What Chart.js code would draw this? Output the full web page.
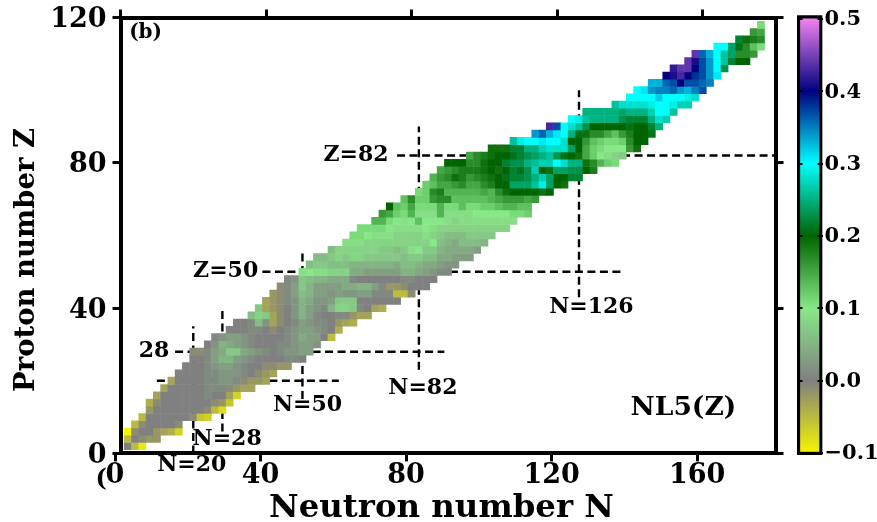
<!DOCTYPE html>
<html><head><meta charset="utf-8">
<style>html,body{margin:0;padding:0;background:#fff;overflow:hidden}
#wrap{position:relative;width:877px;height:522px}
canvas{position:absolute;top:0}
#main{left:0}#bar{left:780px}</style>
<script src="https://cdn.jsdelivr.net/npm/chart.js@4/dist/chart.umd.min.js"></script>
</head><body><div id="wrap"><div style="position:absolute;left:0;top:0;width:877px;height:522px"><canvas id="main" width="877" height="522"></canvas></div><div style="position:absolute;left:780px;top:0;width:97px;height:522px"><canvas id="bar" width="97" height="522" style="left:0"></canvas></div></div>
<script>
// colour scale
const cbValues=[-0.1,0,0.1,0.2,0.3,0.4,0.5];
const cbColors=[[245,245,0],[128,128,128],[136,232,136],[0,100,0],[0,255,255],[0,0,128],[238,130,238]];
const cbTicks=[-0.1,0,0.1,0.2,0.3,0.4,0.5];
const xTicksBottom=[0,40,80,120,160];
const xTicksTop=[0,40,80,120,160];
const yTicks=[0,40,80,120];

// proton numbers of the rows, first neutron number of each row
const zList=[2,4,6,8,10,12,14,16,18,20,22,24,26,28,30,32,34,36,38,40,42,44,46,48,50,52,54,56,58,60,62,64,66,68,70,72,74,76,78,80,82,84,86,88,90,92,94,96,98,100,102,104,106,108,110,112,114,116,118];
const firstN=[2,2,2,4,6,8,8,10,12,14,16,18,20,20,24,26,30,32,36,38,40,42,44,46,50,52,54,58,62,64,66,70,72,74,78,82,84,86,88,90,96,102,108,114,118,124,128,136,140,142,146,150,152,156,158,164,170,174,176];

// quadrupole-type values per row, in hundredths
const r2=[0,-5,-9];
const r4=[-5,0,-1,-2,-2];
const r6=[-10,-1,0,0,-2,-3,-4,-7];
const r8=[-5,-1,0,0,0,0,-1];
const r10=[-5,0,0,0,0,0,0,-1,-6,-7];
const r12=[-2,0,0,0,0,0,0,0,-1,-5,-8];
const r14=[-4,-1,0,0,0,0,0,0,0,-1,-2,-6];
const r16=[-3,0,0,0,0,0,0,1,0,0,-3,-7];
const r18=[-3,0,0,0,0,0,1,1,1,-1,-2,-3,-3];
const r20=[-3,0,0,0,0,1,1,2,2,1,-1,-2,-2,-3];
const r22=[0,0,0,0,1,1,2,2,2,1,0,-1,-2,-3];
const r24=[0,0,0,1,2,3,3,2,1,0,0,-1,-1,-2,-2];
const r26=[0,0,1,3,5,5,3,2,1,0,0,0,0,1,1,0];
const r28=[-1,-1,1,3,4,7,7,4,3,2,1,0,1,2,2,3,3];
const r30=[0,2,5,4,3,2,1,0,0,0,1,1,2,3,3,2];
const r32=[1,2,3,3,2,1,0,0,0,0,1,2,4,3,3,0,-5];
const r34=[0,0,0,1,1,0,-1,0,1,2,3,3,2,1,0,-4];
const r36=[0,0,1,6,2,-3,-1,0,1,3,2,1,1,0,-2,-3,-4];
const r38=[6,8,7,-3,-1,0,2,5,3,1,0,0,1,1,-2,-3,-3];
const r40=[7,-3,-2,-1,0,2,5,3,2,1,5,8,8,7,1,0,-3,-4];
const r42=[-3,-2,-1,1,2,5,4,2,2,3,7,7,7,0,0,0,0,0,0];
const r44=[-2,-1,1,3,6,5,3,3,2,3,2,2,3,3,1,1,1,-5,-5,-1];
const r46=[-1,1,3,7,5,3,3,3,3,4,4,5,5,3,1,-2,-2,-1,0,0,0];
const r48=[1,2,7,6,5,5,4,4,4,1,0,0,0,0,0,0,1,1,0,0,0];
const r50=[9,10,9,9,8,8,8,4,4,3,3,3,3,3,5,5,4,3,2,1,1];
const r52=[6,7,7,6,6,6,5,5,5,5,5,5,4,6,6,5,4,4,3,2,2];
const r54=[6,6,7,8,7,8,8,7,7,7,7,7,6,7,7,6,6,4,4,3,3,3];
const r56=[6,8,8,8,8,8,8,7,7,6,7,9,10,7,7,5,4,4,4,4,3];
const r58=[9,9,9,8,8,8,8,8,8,8,8,8,10,6,5,4,6,6,6,5];
const r60=[11,11,10,9,9,9,8,8,8,8,9,8,7,6,6,6,7,7,7,7];
const r62=[11,11,11,11,10,9,9,9,9,10,9,8,8,8,8,8,8,8,8,8,8];
const r64=[14,14,11,10,9,10,13,10,10,10,9,8,9,9,9,9,9,9,9,9];
const r66=[16,15,12,11,14,9,9,9,14,9,9,9,9,10,10,10,10,10,11,11,12];
const r68=[20,13,12,15,11,11,11,14,11,11,13,11,11,12,12,13,14,14,13,13];
const r70=[13,17,12,12,16,17,17,13,13,13,13,13,14,15,16,16,16,15,16];
const r72=[11,12,17,18,14,14,14,14,14,15,14,17,19,20,20,20,20,19,20];
const r74=[12,13,15,15,16,17,15,15,17,18,20,20,24,24,24,26,29,24,20,19];
const r76=[14,16,17,19,18,16,17,18,19,20,21,22,22,23,25,27,24,20,20,22,22];
const r78=[15,16,17,18,18,18,19,20,19,20,22,21,23,27,20,19,24,24,23,23,20,18];
const r80=[20,20,20,17,17,19,20,20,22,23,23,25,26,27,27,30,28,25,25,19,17,14,12,11];
const r82=[15,17,18,19,20,20,21,22,23,24,25,26,23,21,20,19,15,12,10,9,8,7];
const r84=[19,19,19,22,22,25,25,27,28,28,28,24,20,15,12,11,10,10,10,16,19];
const r86=[26,29,30,30,31,30,30,28,20,20,16,13,12,11,11,12,17,20,20];
const r88=[34,36,33,31,30,25,21,19,17,17,15,13,16,18,20,20,21];
const r90=[43,37,30,28,26,23,20,20,20,20,20,21,20,20,22,25];
const r92=[30,29,26,25,25,25,25,23,22,22,22,25,28,27];
const r94=[25,25,25,25,25,24,25,25,25,27,30,30,26];
const r96=[26,28,28,28,28,29,30,30,29,27,27];
const r98=[30,30,30,30,32,30,30,30,29,28];
const r100=[30,31,34,35,35,36,34,33,35,37];
const r102=[33,33,36,37,40,37,37,36,35];
const r104=[40,41,43,40,38,37,34,31];
const r106=[42,44,44,40,37,34,30,23];
const r108=[44,41,37,34,30,26,22,20,20];
const r110=[44,36,33,30,26,24,17,17,16];
const r112=[30,30,24,21,17,13,11];
const r114=[22,19,18,17];
const r116=[16,15];
const r118=[11];
const rows=[r2,r4,r6,r8,r10,r12,r14,r16,r18,r20,r22,r24,r26,r28,r30,r32,r34,r36,r38,r40,r42,r44,r46,r48,r50,r52,r54,r56,r58,r60,r62,r64,r66,r68,r70,r72,r74,r76,r78,r80,r82,r84,r86,r88,r90,r92,r94,r96,r98,r100,r102,r104,r106,r108,r110,r112,r114,r116,r118];

// magic number guide lines: [position, from, to]
const nLines=[[20,0,35],[28,6,40],[50,15,55],[82,23,90],[126,43,100]];
const zLines=[[20,10,60],[28,15,89],[50,39,138],[82,76,180]];
// annotation texts
const labelTexts=["28","Z=50","Z=82","N=20","N=28","N=50","N=82","N=126","NL5(Z)","(b)","("];
const labelN=[9.2,28.9,64.7,19.6,29.3,51.4,83.1,129.4,154.7,6.9,-5.3];
const labelZ=[28.2,50.2,82.1,-3.2,4,13.3,18,40.3,12.5,115.7,-7.2];
const labelSizes=[22,22,22,22,22,22,22,22,26.5,20,24];
const xTitle='Neutron number N';
const yTitle='Proton number Z';

function colorAt(v){
  v=Math.max(cbValues[0],Math.min(cbValues[cbValues.length-1],v));
  let i=0;while(i<cbValues.length-2&&v>cbValues[i+1])i++;
  const t=(v-cbValues[i])/(cbValues[i+1]-cbValues[i]);
  const a=cbColors[i],b=cbColors[i+1];
  return `rgb(${a.map((c,j)=>Math.round(c+(b[j]-c)*t)).join(',')})`;
}
const cells=[];
rows.forEach((row,i)=>row.forEach((v,j)=>cells.push({x:firstN[i]+2*j,y:zList[i],v:v/100})));

const serif="'DejaVu Serif'";
const lineSets=[
 ...nLines.map(l=>[{x:l[0],y:l[1]},{x:l[0],y:l[2]}]),
 ...zLines.map(l=>[{x:l[1],y:l[0]},{x:l[2],y:l[0]}])
].map(d=>({type:'scatter',data:d,xAxisID:'xTop',yAxisID:'y',showLine:true,borderColor:'#000',borderWidth:2.4,borderDash:[8,4.5],pointRadius:0,order:2}));

function fixed(side,size){return s=>{ if(side==='w')s.width=size; else s.height=size; s.paddingLeft=s.paddingRight=s.paddingTop=s.paddingBottom=0; };}
const grid={drawOnChartArea:false,color:'#000',lineWidth:3,tickLength:8,tickWidth:3,tickColor:'#000'};
const border={display:true,color:'#000',width:4};
const tickFont={family:serif,weight:'bold',size:27};
function setTicks(list){return s=>{s.ticks=list.map(v=>({value:v}));};}

const textPlugin={id:'texts',afterDatasetsDraw(c){
  const x=c.scales.xTop,y=c.scales.y,g=c.ctx;
  g.save();g.fillStyle='#000';g.textAlign='center';g.textBaseline='middle';
  labelTexts.forEach((t,i)=>{g.font=`bold ${labelSizes[i]}px ${serif}`;g.fillText(t,x.getPixelForValue(labelN[i]),y.getPixelForValue(labelZ[i]));});
  g.font=`bold 32.4px ${serif}`;g.fillText(xTitle,441.5,509);
  g.translate(27,260);g.rotate(-Math.PI/2);g.font=`bold 27.5px ${serif}`;g.fillText(yTitle,0,0);
  g.restore();
}};

new Chart(document.getElementById('main'),{
 data:{datasets:[
  {type:'scatter',data:cells,xAxisID:'xTop',yAxisID:'y',pointStyle:'rect',pointRadius:5.5,pointHoverRadius:5.5,pointBorderWidth:0,
   pointBackgroundColor:c=>colorAt(c.raw?c.raw.v:0),order:1},
  ...lineSets]},
 options:{responsive:false,animation:false,devicePixelRatio:1,
  layout:{padding:0},
  plugins:{legend:{display:false},tooltip:{enabled:false}},
  scales:{
   x:{type:'linear',position:'bottom',min:1.51,max:181.51,afterBuildTicks:setTicks(xTicksBottom),afterFit:fixed('h',68.6),
      grid,border,ticks:{font:tickFont,color:'#000',padding:-2,maxRotation:0,autoSkip:false,callback:v=>String(v)}},
   xTop:{type:'linear',position:'top',min:0,max:180,afterBuildTicks:setTicks(xTicksTop),afterFit:fixed('h',17.5),
      grid,border,ticks:{display:false}},
   y:{type:'linear',position:'left',min:0,max:120,afterBuildTicks:setTicks(yTicks),afterFit:fixed('w',120.5),
      grid,border,ticks:{font:tickFont,color:'#000',padding:6,labelOffset:2.5,autoSkip:false,callback:v=>String(v)}},
   yRight:{type:'linear',position:'right',min:0,max:120,afterBuildTicks:setTicks(yTicks),afterFit:fixed('w',101.5),
      grid,border,ticks:{display:false}}
  }},
 plugins:[textPlugin]
});

new Chart(document.getElementById('bar'),{
 type:'bar',
 data:{labels:['cb'],datasets:[{data:[[-0.1028,0.5051]],categoryPercentage:1,barPercentage:1,borderColor:'#000',borderWidth:3.5,borderSkipped:false,
  backgroundColor:c=>{
    const y=c.chart.scales.y;
    if(!y||!c.chart.chartArea)return '#888';
    const g=c.chart.ctx.createLinearGradient(0,y.getPixelForValue(cbValues[0]),0,y.getPixelForValue(cbValues[cbValues.length-1]));
    cbValues.forEach((v,i)=>g.addColorStop(i/(cbValues.length-1),colorAt(v)));
    return g;
  }}]},
 options:{responsive:false,animation:false,devicePixelRatio:1,
  layout:{padding:{left:17,top:15.3,bottom:67,right:0}},
  plugins:{legend:{display:false},tooltip:{enabled:false}},
  scales:{
   x:{display:false},
   y:{type:'linear',position:'right',min:-0.1028,max:0.5051,afterBuildTicks:setTicks(cbTicks),afterFit:fixed('w',54.5),
      grid:{drawTicks:false,z:1,color:'#000',lineWidth:2},border:{display:false,dash:[5.5,15,5.5]},
      ticks:{font:{family:serif,weight:'bold',size:21},color:'#000',padding:2,labelOffset:1,autoSkip:false,callback:v=>v<0?'\u2212'+Math.abs(v).toFixed(1):v.toFixed(1)}}
  }}
});
</script></body></html>
